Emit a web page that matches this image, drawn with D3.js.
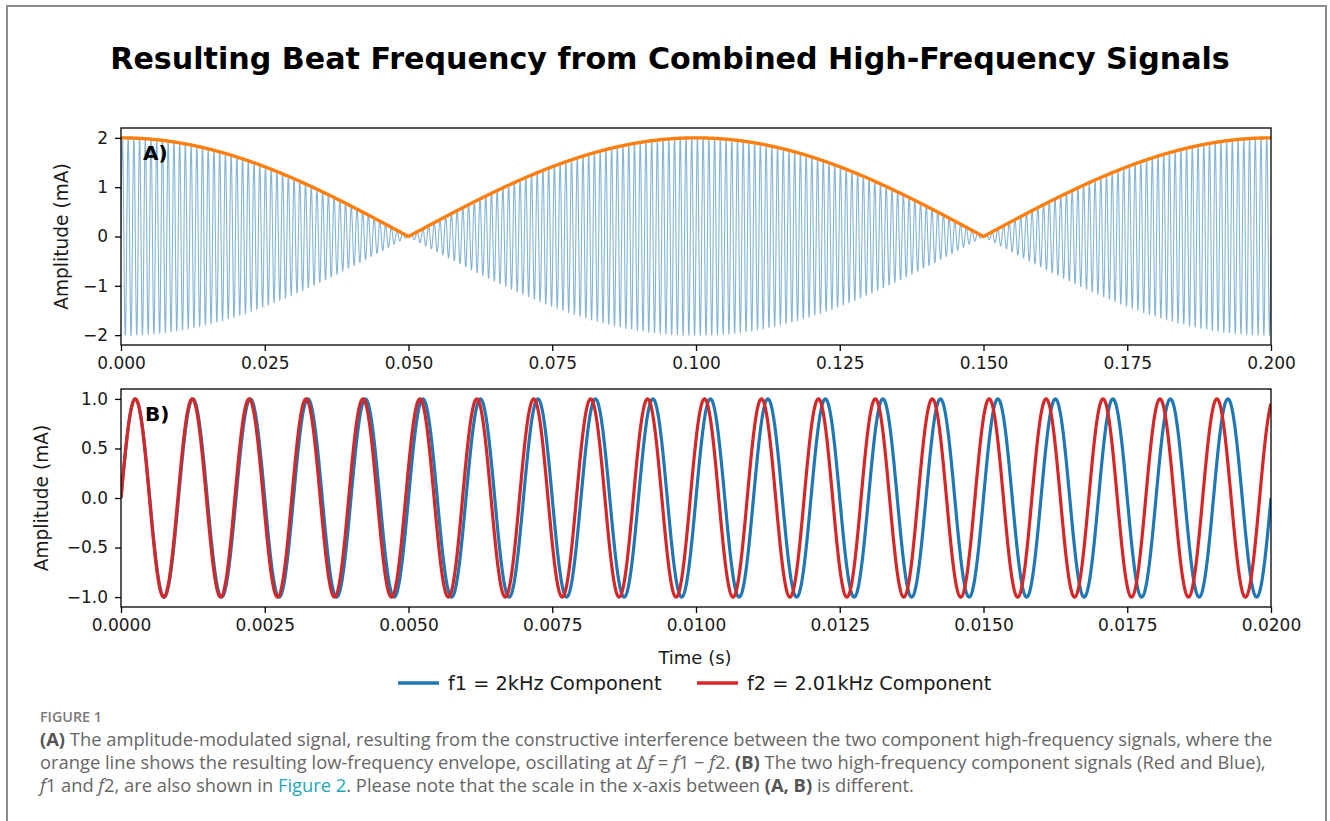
<!DOCTYPE html>
<html>
<head>
<meta charset="utf-8">
<script src="https://cdn.jsdelivr.net/npm/d3@7"></script>
<style>
  html, body { margin: 0; padding: 0; background: #fff; }
  svg { display: block; }
</style>
</head>
<body>
<svg id="chart" width="1330" height="821"></svg>
<script>
// ---------------- data ----------------
const chartTitle = "Resulting Beat Frequency from Combined High-Frequency Signals";
const componentLabels = ["f1 = 2kHz Component", "f2 = 2.01kHz Component"];
// cycles per second as drawn in panel B (read from peak spacing / drift)
const componentFreqs = [1000, 1010];
const componentAmps = [1, 1];
const componentColors = ["#1f77b4", "#d62728"];
const spanA = [0, 0.2];      // seconds shown in panel A
const spanB = [0, 0.02];     // seconds shown in panel B
const samplesA = 20000;
const samplesB = 4000;
const xTicksA = [0, 0.025, 0.05, 0.075, 0.1, 0.125, 0.15, 0.175, 0.2];
const yTicksA = [-2, -1, 0, 1, 2];
const xTicksB = [0, 0.0025, 0.005, 0.0075, 0.01, 0.0125, 0.015, 0.0175, 0.02];
const yTicksB = [-1, -0.5, 0, 0.5, 1];
const yDomainA = [-2.2, 2.2];
const yDomainB = [-1.1, 1.1];
const yLabel = "Amplitude (mA)";
const xLabel = "Time (s)";

// ---------------- helpers ----------------
const svg = d3.select("#chart");
svg.append("rect").attr("width", 1330).attr("height", 821).attr("fill", "#fff");
// outer frame
svg.append("rect").attr("x", 7).attr("y", 6).attr("width", 1319).attr("height", 830)
  .attr("fill", "none").attr("stroke", "#8c8c8c").attr("stroke-width", 2);

const FONT = "'DejaVu Sans', sans-serif";
const minus = s => s.replace("-", "\u2212");

function sampleTimes(span, n) {
  return d3.range(n + 1).map(i => span[0] + (span[1] - span[0]) * i / n);
}
function component(k, t) {
  return componentAmps[k] * Math.sin(2 * Math.PI * componentFreqs[k] * t);
}

// title
const title = svg.append("text").attr("x", 670).attr("y", 69)
  .attr("text-anchor", "middle").attr("font-family", FONT).attr("font-weight", "bold")
  .attr("font-size", 30).attr("fill", "#000").text(chartTitle);
{
  const w = title.node().getComputedTextLength();
  title.attr("font-size", 30 * 1120 / w);
}

function makePanel(cfg) {
  const x = d3.scaleLinear().domain(cfg.xDomain).range([cfg.left, cfg.right]);
  const y = d3.scaleLinear().domain(cfg.yDomain).range([cfg.bottom, cfg.top]);
  const g = svg.append("g");
  const clipId = "clip" + cfg.id;
  svg.append("clipPath").attr("id", clipId).append("rect")
    .attr("x", cfg.left).attr("y", cfg.top)
    .attr("width", cfg.right - cfg.left).attr("height", cfg.bottom - cfg.top);
  const plot = g.append("g").attr("clip-path", `url(#${clipId})`);

  const xAxis = g.append("g").attr("transform", `translate(0,${cfg.bottom})`)
    .call(d3.axisBottom(x).tickValues(cfg.xTicks).tickSize(6).tickPadding(6)
      .tickFormat(d => d3.format(cfg.xFmt)(d)));
  const yAxis = g.append("g").attr("transform", `translate(${cfg.left},0)`)
    .call(d3.axisLeft(y).tickValues(cfg.yTicks).tickSize(6).tickPadding(7)
      .tickFormat(d => minus(d3.format(cfg.yFmt)(d))));
  [xAxis, yAxis].forEach(a => {
    a.select(".domain").remove();
    a.selectAll("line").attr("stroke", "#000").attr("stroke-width", 1.3);
    a.selectAll("text").attr("font-family", FONT).attr("font-size", 17).attr("fill", "#1a1a1a");
  });

  g.append("text").attr("transform", `translate(${cfg.yLabelX},${(cfg.top + cfg.bottom) / 2}) rotate(-90)`)
    .attr("text-anchor", "middle").attr("dy", "0.35em").attr("font-family", FONT)
    .attr("font-size", 18.6).attr("fill", "#1a1a1a").text(yLabel);

  return { x, y, g, plot };
}

// ---------------- panel A ----------------
const A = makePanel({
  id: "A", left: 121, right: 1271, top: 128, bottom: 345,
  xDomain: spanA, yDomain: yDomainA, xTicks: xTicksA, yTicks: yTicksA,
  xFmt: ".3f", yFmt: "d", yLabelX: 61
});
const tA = sampleTimes(spanA, samplesA);
const sumA = tA.map(t => ({ t, v: component(0, t) + component(1, t) }));
const envA = tA.filter((d, i) => i % 10 === 0).map(t => ({
  t, v: Math.abs(2 * Math.cos(Math.PI * (componentFreqs[1] - componentFreqs[0]) * t))
}));
A.plot.append("path").datum(sumA)
  .attr("d", d3.line().x(d => A.x(d.t)).y(d => A.y(d.v)))
  .attr("fill", "none").attr("stroke", componentColors[0]).attr("stroke-opacity", 0.55)
  .attr("stroke-width", 1.1);
A.plot.append("path").datum(envA)
  .attr("d", d3.line().x(d => A.x(d.t)).y(d => A.y(d.v)))
  .attr("fill", "none").attr("stroke", "#ff7f0e").attr("stroke-width", 3.4)
  .attr("stroke-linejoin", "round");
A.g.append("rect").attr("x", 121).attr("y", 128).attr("width", 1150).attr("height", 217)
  .attr("fill", "none").attr("stroke", "#000").attr("stroke-width", 1.3);
A.g.append("text").attr("x", 143).attr("y", 160).attr("font-family", FONT)
  .attr("font-weight", "bold").attr("font-size", 20).attr("fill", "#000").text("A)");

// ---------------- panel B ----------------
const B = makePanel({
  id: "B", left: 121, right: 1271, top: 389, bottom: 607,
  xDomain: spanB, yDomain: yDomainB, xTicks: xTicksB, yTicks: yTicksB,
  xFmt: ".4f", yFmt: ".1f", yLabelX: 41
});
const tB = sampleTimes(spanB, samplesB);
[0, 1].forEach(k => {
  B.plot.append("path").datum(tB.map(t => ({ t, v: component(k, t) })))
    .attr("d", d3.line().x(d => B.x(d.t)).y(d => B.y(d.v)))
    .attr("fill", "none").attr("stroke", componentColors[k]).attr("stroke-width", 3.2)
    .attr("stroke-linejoin", "round");
});
B.g.append("rect").attr("x", 121).attr("y", 389).attr("width", 1150).attr("height", 218)
  .attr("fill", "none").attr("stroke", "#000").attr("stroke-width", 1.3);
B.g.append("text").attr("x", 145).attr("y", 421).attr("font-family", FONT)
  .attr("font-weight", "bold").attr("font-size", 20).attr("fill", "#000").text("B)");

svg.append("text").attr("x", 695).attr("y", 664).attr("text-anchor", "middle")
  .attr("font-family", FONT).attr("font-size", 18).attr("fill", "#1a1a1a").text(xLabel);

// legend
const legendX = [398, 697];
componentLabels.forEach((lab, k) => {
  svg.append("line").attr("x1", legendX[k]).attr("x2", legendX[k] + 41)
    .attr("y1", 683).attr("y2", 683).attr("stroke", componentColors[k]).attr("stroke-width", 3.4);
  svg.append("text").attr("x", legendX[k] + 50).attr("y", 690)
    .attr("font-family", FONT).attr("font-size", 19.3).attr("fill", "#1a1a1a").text(lab);
});

// ---------------- caption ----------------
const CAP = "'Open Sans', 'Lato', sans-serif";
const figLab = svg.append("text").attr("x", 40).attr("y", 722).attr("font-family", CAP)
  .attr("font-size", 14).attr("font-weight", 600).attr("fill", "#7a7a7a").text("FIGURE 1");
{
  const w = figLab.node().getComputedTextLength();
  figLab.attr("font-size", 14 * 62 / w);
}

const captionLines = [
  [["(A)", "b"], [" The amplitude-modulated signal, resulting from the constructive interference between the two component high-frequency signals, where the", ""]],
  [["orange line shows the resulting low-frequency envelope, oscillating at \u0394", ""], ["f", "i"], [" = ", ""], ["f", "i"], ["1 \u2212 ", ""], ["f", "i"], ["2. ", ""], ["(B)", "b"], [" The two high-frequency component signals (Red and Blue),", ""]],
  [["f", "i"], ["1 and ", ""], ["f", "i"], ["2, are also shown in ", ""], ["Figure 2", "l"], [". Please note that the scale in the x-axis between ", ""], ["(A, B)", "b"], [" is different.", ""]]
];
const capBase = [746, 769, 792];
const capNodes = captionLines.map((parts, i) => {
  const t = svg.append("text").attr("x", 40).attr("y", capBase[i]).attr("font-family", CAP)
    .attr("font-size", 16).attr("fill", "#666");
  parts.forEach(([s, st]) => {
    const ts = t.append("tspan").text(s);
    if (st === "b") ts.attr("font-weight", "bold").attr("fill", "#555");
    if (st === "i") ts.attr("font-style", "italic");
    if (st === "l") ts.attr("fill", "#1ca7b8");
  });
  return t;
});
{
  const w = capNodes[0].node().getComputedTextLength();
  const fs = 16 * 1233 / w;
  capNodes.forEach(n => n.attr("font-size", fs));
}
</script>
</body>
</html>
